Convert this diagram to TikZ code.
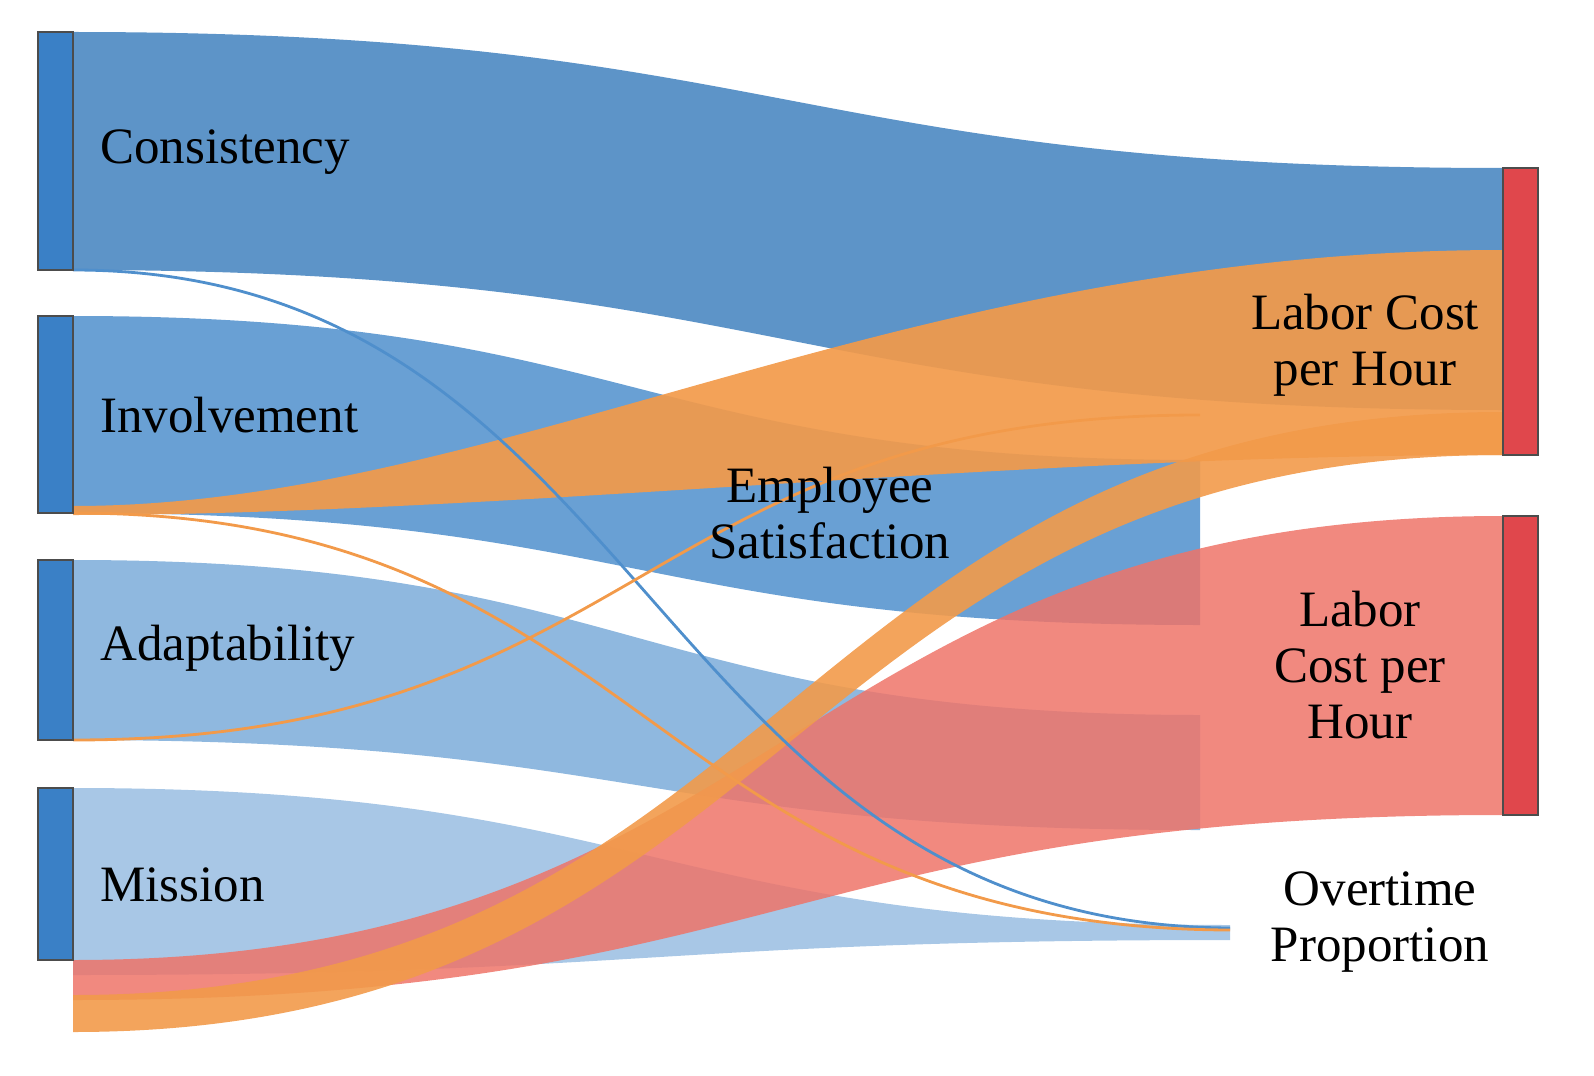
\documentclass[tikz,border=0pt]{standalone}
\usepackage{fontspec}
\setmainfont{Liberation Serif}
\definecolor{bandblue}{HTML}{4F8FCC}
\definecolor{bandorange}{HTML}{F29A4A}
\definecolor{bandred}{HTML}{EE7469}
\definecolor{barblue}{HTML}{3A80C6}
\definecolor{barred}{HTML}{E0474C}
% one band of the flow: x1, top1, bottom1, x2, top2, bottom2
\newcommand{\flowband}[7]{%
  \fill[#7] (#1,#2) .. controls ({(#1+#4)/2},#2) and ({(#1+#4)/2},#5) .. (#4,#5)
    -- (#4,#6) .. controls ({(#1+#4)/2},#6) and ({(#1+#4)/2},#3) .. (#1,#3) -- cycle;}
\begin{document}
\begin{tikzpicture}[x=0.01cm,y=-0.01cm]
\tikzset{bar/.style={draw=black!70, line width=0.8pt},
  lab/.style={font=\fontsize{14.5}{16}\selectfont, align=center},
  thin/.style={line width=0.8pt}}
\useasboundingbox (0,0) rectangle (1594,1076);

% blue bands
\flowband{73}{32}{270}{1503}{168}{410}{bandblue!95!black, opacity=0.9}
\flowband{73}{316}{513}{1200}{460}{625}{bandblue, opacity=0.85}
\flowband{73}{560}{740}{1200}{715}{830}{bandblue!75, opacity=0.85}
\flowband{73}{788}{975}{1230}{925}{940}{bandblue!55, opacity=0.9}

% red and orange bands
\flowband{73}{960}{1000}{1503}{516}{815}{bandred, opacity=0.85}
\fill[bandorange, opacity=0.92] (73,506) .. controls (500,506) and (900,250) .. (1503,250)
  -- (1503,455) .. controls (1000,455) and (500,515) .. (73,515) -- cycle;
\flowband{73}{995}{1032}{1503}{412}{455}{bandorange, opacity=0.9}

% thin links
\draw[thin, bandblue] (73,270) .. controls (650,270) and (650,925) .. (1230,928);
\draw[thin, bandorange] (73,513) .. controls (650,513) and (650,928) .. (1230,930);
\draw[thin, bandorange] (73,740) .. controls (640,740) and (640,415) .. (1200,415);

% bars
\foreach \top/\bot in {32/270, 316/513, 560/740, 788/960}
  \draw[bar, fill=barblue] (38,\top) rectangle (73,\bot);
\foreach \top/\bot in {168/455, 516/815}
  \draw[bar, fill=barred] (1503,\top) rectangle (1538,\bot);

% labels
\node[lab, anchor=west] (consistency) at (88,152) {Consistency};
\node[lab, anchor=west] (involvement) at (88,415) {Involvement};
\node[lab, anchor=west] (adaptability) at (88,648) {Adaptability};
\node[lab, anchor=west] (mission) at (88,885) {Mission};
\node[lab] (satisfaction) at (830,513) {Employee\\Satisfaction};
\node[lab] (costtop) at (1365,345) {Labor Cost\\per Hour};
\node[lab] (costlow) at (1360,665) {Labor\\Cost per\\Hour};
\node[lab] (overtime) at (1380,922) {Overtime\\Proportion};
\end{tikzpicture}
\end{document}
